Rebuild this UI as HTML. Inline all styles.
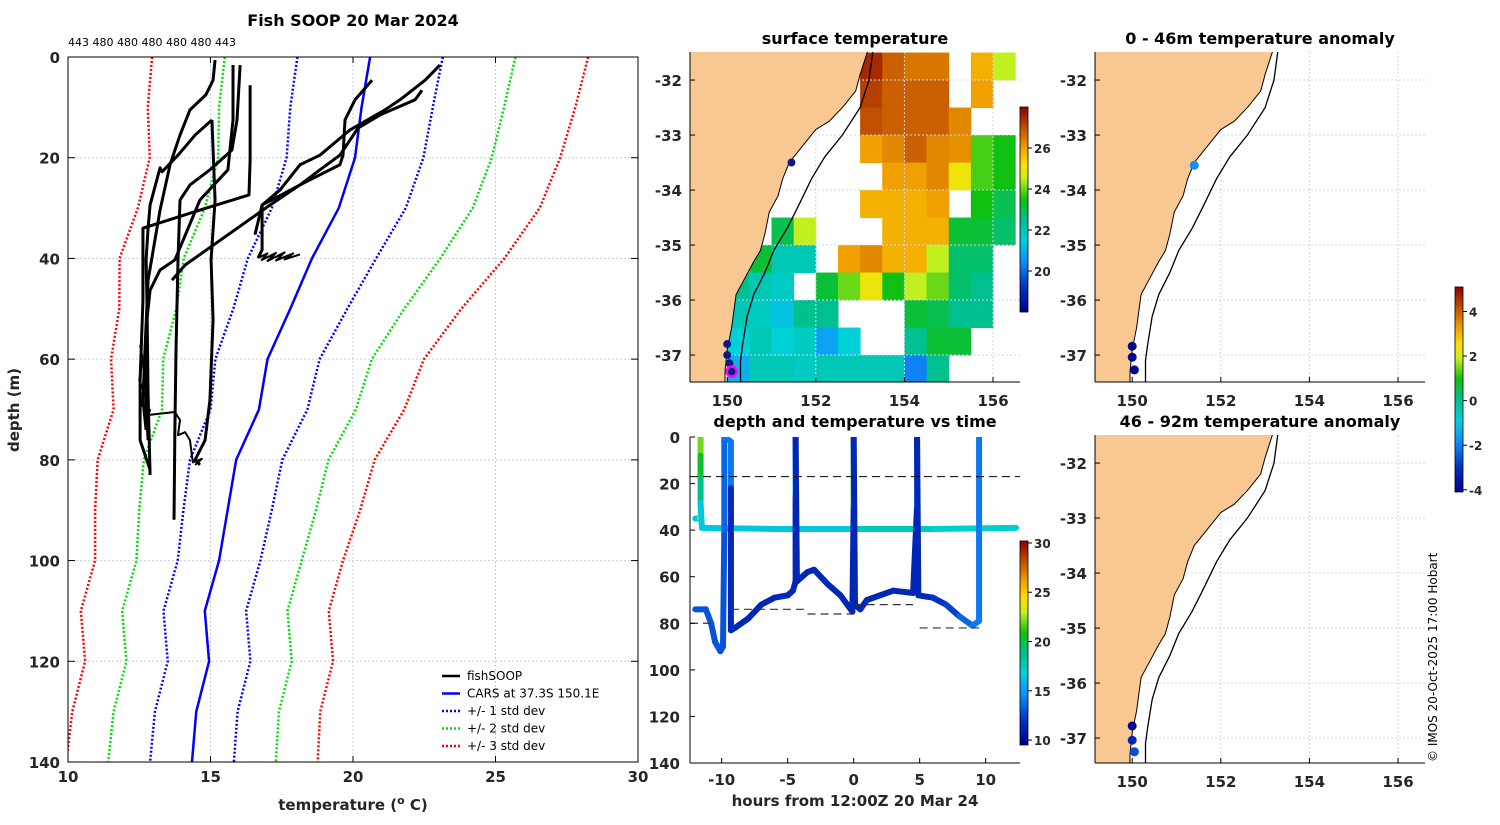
<!DOCTYPE html>
<html><head><meta charset="utf-8"><style>
body{margin:0;background:#fff}
svg text{font-family:"DejaVu Sans","Liberation Sans",sans-serif;fill:#262626}
.t{font-weight:bold;font-size:15px}
.n{font-weight:normal}
.ti{font-weight:bold;font-size:16px;fill:#000}
</style></head><body>
<svg id="fig" width="1500" height="820" viewBox="0 0 1500 820" xmlns="http://www.w3.org/2000/svg">
<defs>
<linearGradient id="cbg" x1="0" y1="1" x2="0" y2="0">
<stop offset="0" stop-color="#00008f"/><stop offset="0.12" stop-color="#0030c0"/><stop offset="0.25" stop-color="#1090ff"/><stop offset="0.35" stop-color="#00d0d8"/><stop offset="0.45" stop-color="#00c090"/><stop offset="0.55" stop-color="#10c010"/><stop offset="0.65" stop-color="#c0f020"/><stop offset="0.72" stop-color="#ffe000"/><stop offset="0.8" stop-color="#f0a000"/><stop offset="0.9" stop-color="#c05000"/><stop offset="1" stop-color="#900000"/>
</linearGradient>
<clipPath id="cpL"><rect x="68" y="57" width="570" height="705"/></clipPath>
<clipPath id="cpM"><rect x="690" y="52" width="330" height="330"/></clipPath>
<clipPath id="cpR1"><rect x="1095" y="52" width="330" height="330"/></clipPath>
<clipPath id="cpR2"><rect x="1095" y="435" width="330" height="328"/></clipPath>
<clipPath id="cpB"><rect x="690" y="437" width="330" height="326"/></clipPath>
</defs>
</svg>
<script>
// ---------- data ----------
const carsDepth=[0,10,20,30,40,50,60,70,80,90,100,110,120,130,140];
const carsTemp=[20.6,20.3,20.07,19.5,18.56,17.8,17.0,16.7,15.9,15.6,15.3,14.8,14.95,14.5,14.35];
const carsStd=[2.55,2.5,2.4,2.35,2.25,2.0,1.83,1.7,1.62,1.55,1.45,1.45,1.45,1.45,1.47];
const fishT=[
[15.16,15.09,14.84,14.28,13.93,13.58,13.23,12.81,12.7,12.63,12.74],
[16.04,15.93,15.75,14.98,14.28,13.93,13.86,13.79,13.75,13.72],
[15.79,15.79,15.61,14.63,13.75,13.23,12.88,12.77,12.74,12.81],
[16.39,16.39,16.35,14.63,12.63,12.63,12.53,12.53,12.88],
[15.05,14.46,13.86,13.3,13.23,12.88,12.81,12.74,12.77,12.81,12.88],
[23.05,22.53,21.65,21.12,19.89,18.84,18.14,17.44,16.81,16.81,16.67],
[22.42,22.18,20.95,20.18,19.54,18.84,18.14,16.81,16.56],
[20.67,20.07,19.72,19.65,19.54,18.84,18.14,17.09,14.11,13.65],
[15.05,15.16,15.02,15.09,14.98,14.81,14.46,14.63],
[12.53,12.63,12.5,12.7,12.55,12.88,12.81,13.75,13.93,13.86,14.11,14.28,14.38,14.7,14.46],
[16.67,17.0,16.8,17.3,17.0,17.6,17.3,17.9,17.6,18.14]];
const fishD=[
[0.6,4.6,7.5,10.5,15.5,21.4,30.4,44.3,58.2,68.1,74.1],
[1.6,12.5,18.5,22.4,25.4,28.4,40.3,58.2,74.1,91.9],
[1.6,12.5,22.4,28.4,40.3,42.3,46.3,52.2,68.1,76.1],
[5.6,20.5,27.4,30.4,34.0,48.3,64.1,76.1,82.0],
[12.5,15.5,19.5,22.8,22.0,29.4,34.0,40.3,48.3,67.1,83.0],
[1.6,4.6,8.5,10.5,14.5,19.5,21.4,26.4,29.4,38.3,39.9],
[6.6,8.5,11.5,14.1,19.5,22.4,25.4,29.4,35.3],
[4.6,8.5,12.5,19.5,21.4,23.4,25.4,29.4,41.3,44.3],
[12.5,28.4,40.3,52.2,68.1,76.1,80.0,81.0],
[57.2,60.2,64.1,67.1,69.1,70.1,71.1,70.5,72.1,75.1,74.5,76.1,80.5,79.8,81.0],
[39.9,39.0,40.3,38.9,40.5,38.8,40.4,39.0,40.2,39.2]];
const depthTicks=[0,20,40,60,80,100,120,140];
const tempTicks=[10,15,20,25,30];
const countLabels=["443","480","480","480","480","480","443"];
// SST grid (0.5 deg), lon centres & lat rows
const sstLon=[149.25,149.75,150.25,150.75,151.25,151.75,152.25,152.75,153.25,153.75,154.25,154.75,155.25,155.75,156.25];
const sstLatTop=[-31.5,-32,-32.5,-33,-33.5,-34,-34.5,-35,-35.5,-36,-36.5,-37];
const N=null;
const sstVal=[
[N,N,N,N,N,N,N,N,27.5,26.8,26.5,26.5,N,25.8,24.5],
[N,N,N,N,N,N,N,N,27.2,26.8,26.8,26.8,N,26,N],
[N,N,N,N,N,N,N,N,27,26.8,26.8,26.8,26.3,N,N],
[N,N,N,N,N,N,N,N,26,26.3,26.8,26.3,26.2,23.8,23.5],
[N,N,N,N,N,N,N,N,N,26,26,26.3,25,23.8,23.5],
[N,N,N,N,N,N,N,N,25.8,25.8,25.8,26,N,23.5,23],
[N,N,N,N,23,24.5,N,N,N,25.8,25.8,25.8,23.2,23.2,22.8],
[N,N,N,23.2,22,22,N,26,26.3,25.8,25.8,24.5,22.8,22.8,N],
[N,N,22.5,22,21.8,N,23.2,24,25,23.5,24.5,24,22.8,22.5,N],
[N,N,22,21.8,21.3,22.5,22.5,N,N,N,23.2,23,22.5,22.5,N],
[N,N,21.5,22,21.5,21.8,20.8,21.5,N,N,22.5,23.2,23.2,N,N],
[N,N,21,22,22,21.8,22,22,22,22,20.3,22.5,N,N,N]];
const coastLon=[153.2,153.0,152.9,152.6,152.3,152.0,151.8,151.6,151.4,151.25,151.15,150.95,150.85,150.75,150.6,150.4,150.2,150.15,150.1,150.0,149.95,149.95];
const coastLat=[-31.4,-31.9,-32.2,-32.5,-32.75,-32.9,-33.1,-33.3,-33.5,-33.8,-34.1,-34.4,-34.8,-35.1,-35.3,-35.6,-35.9,-36.2,-36.5,-36.9,-37.3,-37.6];
const isoLon=[153.3,153.2,153.0,152.6,152.2,151.9,151.6,151.35,151.05,150.85,150.6,150.45,150.35,150.3,150.3];
const isoLat=[-31.4,-32.0,-32.5,-33.0,-33.4,-33.8,-34.3,-34.7,-35.1,-35.5,-35.9,-36.3,-36.8,-37.1,-37.6];
const lonTicks=[150,152,154,156];
const latTicks=[-32,-33,-34,-35,-36,-37];
const sstDotLon=[151.45,150.0,150.0,150.05,150.1];
const sstDotLat=[-33.5,-36.8,-37.0,-37.15,-37.3];
const an1Lon=[151.4,150.0,150.0,150.05], an1Lat=[-33.55,-36.84,-37.04,-37.27], an1Val=[-1.8,-4,-4,-4];
const an2Lon=[150.0,150.0,150.05], an2Lat=[-36.78,-37.04,-37.25], an2Val=[-4,-3.2,-2.6];
const sstCbTicks=[20,22,24,26];
const anCbTicks=[-4,-2,0,2,4];
const tvCbTicks=[10,15,20,25,30];
const hourTicks=[-10,-5,0,5,10];
// time-depth traces
const hlT=[-12.0,-11.6,-11.6,-11.6,-11.6,-11.6,-11.5,-6,0,6,12.3];
const hlD=[35,35,0.5,8,18,28,39,39.5,39.5,39.5,39];
const hlC=[16.5,16.5,23.5,22,20.5,19,16.5,16.5,16.5,17.5,17];
const trT=[-12.0,-11.2,-10.8,-10.5,-10.1,-9.9,-9.8,-9.8,-9.3,-9.3,-9.3,-9.3,-9.0,-8,-7,-6,-5,-4.6,-4.4,-4.4,-4.4,-4.3,-3.5,-3,-2,-1,-0.1,0,0,0.1,0.5,1,2,3,4.5,4.8,4.8,4.9,6,7,8,9,9.5,9.5];
const trD=[74,74,80,88,92,90,40,0,2,22,28,83,82,78,72,69,68,66,62,25,0,62,58,57,63,68,75,30,0,72,74,70,68,66,67,30,0,68,69,72,77,81,79,0];
const trC=[13,13,13,13,13,13,13,13.5,14,14,11.5,11.5,11.5,11.5,11.5,11.5,11.5,11.5,11.5,11.5,15.5,11.5,11.5,11.5,11.5,11.5,11.5,11.5,20,11.5,11.5,11.5,11.5,11.5,11.5,11.5,14,11.5,11.5,12,12.5,13.5,14,14];
const dashT0=[-12.4,-9.3,-3.5,0,5];
const dashT1=[-10.5,-3.5,0,4.5,9.5];
const dashD=[80,74,76,72,82];
const surfLineD=17;

// ---------- helpers ----------
const svg=document.getElementById('fig');
const NS='http://www.w3.org/2000/svg';
function mk(tag,attrs,parent){const e=document.createElementNS(NS,tag);for(const k in attrs)e.setAttribute(k,attrs[k]);(parent||svg).appendChild(e);return e;}
function txt(x,y,s,cls,anchor,parent){const e=mk('text',{x:x,y:y,'class':cls||'t','text-anchor':anchor||'middle'},parent);e.textContent=s;return e;}
const stops=[[0,[0,0,143]],[0.12,[0,48,192]],[0.25,[16,144,255]],[0.35,[0,208,216]],[0.45,[0,192,144]],[0.55,[16,192,16]],[0.65,[192,240,32]],[0.72,[255,224,0]],[0.8,[240,160,0]],[0.9,[192,80,0]],[1,[144,0,0]]];
function cmap(f){f=Math.max(0,Math.min(1,f));for(let i=1;i<stops.length;i++){if(f<=stops[i][0]){const a=stops[i-1],b=stops[i];const u=(f-a[0])/(b[0]-a[0]);const c=a[1].map((v,j)=>Math.round(v+(b[1][j]-v)*u));return `rgb(${c[0]},${c[1]},${c[2]})`;}}return 'rgb(144,0,0)';}

// ---------- left profile panel ----------
const L={x0:68,y0:57,w:570,h:705};
const lx=t=>L.x0+(t-10)/20*L.w, ly=d=>L.y0+d/140*L.h;
const gL=mk('g',{});


tempTicks.forEach(t=>{const l=mk('line',{x1:lx(t),x2:lx(t),y1:L.y0,y2:L.y0+L.h,stroke:'#c8cde8','stroke-dasharray':'2,2','stroke-width':1},gL);
 const tl=txt(lx(t),L.y0+L.h+20,String(t),'t','middle',gL);
 mk('line',{x1:lx(t),x2:lx(t),y1:L.y0,y2:L.y0+6,stroke:'#000'},gL);mk('line',{x1:lx(t),x2:lx(t),y1:L.y0+L.h,y2:L.y0+L.h-6,stroke:'#000'},gL);});
depthTicks.forEach(d=>{const l=mk('line',{x1:L.x0,x2:L.x0+L.w,y1:ly(d),y2:ly(d),stroke:'#c8cde8','stroke-dasharray':'2,2','stroke-width':1},gL);
 const tl=txt(L.x0-8,ly(d)+6,String(d),'t','end',gL);
 mk('line',{x1:L.x0,x2:L.x0+7,y1:ly(d),y2:ly(d),stroke:'#000'},gL);mk('line',{x1:L.x0+L.w,x2:L.x0+L.w-7,y1:ly(d),y2:ly(d),stroke:'#000'},gL);});
const gLc=mk('g',{'clip-path':'url(#cpL)'},gL);
function profLine(temps,color,dash,width,name){const pts=carsDepth.map((d,i)=>lx(temps[i])+','+ly(d)).join(' ');const p=mk('polyline',{points:pts,fill:'none',stroke:color,'stroke-width':width,'stroke-dasharray':dash||''},gLc);}
[[3,'#ff0000'],[2,'#00e000'],[1,'#0000ff']].forEach(([k,c])=>{
 profLine(carsTemp.map((t,i)=>t-k*carsStd[i]),c,'2,2',2.5,'std-'+k+'-lower');
 profLine(carsTemp.map((t,i)=>t+k*carsStd[i]),c,'2,2',2.5,'std-'+k+'-upper');});
profLine(carsTemp,'#0000ff','',2.5,'cars-mean-profile');
fishT.forEach((ts,k)=>{const pts=ts.map((t,i)=>lx(t)+','+ly(fishD[k][i])).join(' ');const p=mk('polyline',{points:pts,fill:'none',stroke:'#000','stroke-width':k>=9?2:3,'stroke-linejoin':'round'},gLc);});
const fr=mk('rect',{x:L.x0,y:L.y0,width:L.w,height:L.h,fill:'none',stroke:'#000','stroke-width':1},gL);

const tt=txt(353,26,'Fish SOOP 20 Mar 2024','ti','middle');
const cl=txt(68,46,countLabels.join(' '),'n','start');cl.setAttribute('style','font-size:11px;fill:#000');
const yl=txt(0,0,'depth (m)','t','middle');yl.setAttribute('transform','translate(19,410) rotate(-90)');
const xl=mk('text',{x:353,y:810,'class':'t','text-anchor':'middle'});xl.innerHTML='temperature (<tspan dy="-6" font-size="11">o</tspan><tspan dy="6"> C)</tspan>';

// legend
const lg=mk('g',{});
const legItems=[['fishSOOP','#000',''],['CARS at 37.3S 150.1E','#0000ff',''],['+/- 1 std dev','#0000ff','2,2'],['+/- 2 std dev','#00e000','2,2'],['+/- 3 std dev','#ff0000','2,2']];
legItems.forEach((it,i)=>{const y=676+i*17.5;const ln=mk('line',{x1:442,x2:460,y1:y,y2:y,stroke:it[1],'stroke-width':2.5,'stroke-dasharray':it[2]},lg);
 const t=txt(467,y+4,it[0],'n','start',lg);t.setAttribute('style','font-size:12px;fill:#000');});

// ---------- maps ----------
function drawMap(x0,y0,h,clip,title,name,drawContent){
 const g=mk('g',{});
 const mx=lon=>x0+(lon-149.16)*44.3, my=lat=>y0+(-31.49-lat)*55;
 const gc=mk('g',{'clip-path':'url(#'+clip+')'},g);
 drawContent&&drawContent(gc,mx,my);
 lonTicks.forEach(l=>mk('line',{x1:mx(l),x2:mx(l),y1:y0,y2:y0+h,stroke:'#d0d4ec','stroke-dasharray':'2,2'},gc));
 latTicks.forEach(l=>{if(my(l)<y0+h)mk('line',{x1:x0,x2:x0+330,y1:my(l),y2:my(l),stroke:'#d0d4ec','stroke-dasharray':'2,2'},gc);});
 const land=coastLon.map((l,i)=>mx(l)+','+my(coastLat[i])).join(' ')+' '+(x0-5)+','+(y0+h+5)+' '+(x0-5)+','+(y0-5);
 const lp=mk('polygon',{points:land,fill:'#f9c892',stroke:'#000','stroke-width':1},gc);
 const iso=mk('polyline',{points:isoLon.map((l,i)=>mx(l)+','+my(isoLat[i])).join(' '),fill:'none',stroke:'#000','stroke-width':1.3},gc);
 mk('line',{x1:x0,x2:x0+330,y1:y0+h,y2:y0+h,stroke:'#000'},g);mk('line',{x1:x0,x2:x0,y1:y0,y2:y0+h,stroke:'#000'},g);
 lonTicks.forEach(l=>{mk('line',{x1:mx(l),x2:mx(l),y1:y0+h,y2:y0+h-5,stroke:'#000'},g);const t=txt(mx(l),y0+h+24,String(l),'t','middle',g);});
 latTicks.forEach(l=>{if(my(l)<y0+h){mk('line',{x1:x0,x2:x0+5,y1:my(l),y2:my(l),stroke:'#000'},g);const t=txt(x0-8,my(l)+6,String(l),'t','end',g);}});
 const ti=txt(x0+165,y0-8,title,'ti','middle',g);
 return {g,gc,mx,my};
}
const sstMin=18,sstMax=28, anMin=-4.1,anMax=5.1, tvMin=9.5,tvMax=30.2;
const m1=drawMap(690,52,330,'cpM','surface temperature','sst-map',(gc,mx,my)=>{
 sstVal.forEach((row,r)=>row.forEach((v,c)=>{if(v===null)return;const x=mx(sstLon[c]-0.25),y=my(sstLatTop[r]);
  const cell=mk('rect',{x:x,y:y,width:mx(sstLon[c]+0.25)-x+0.5,height:my(sstLatTop[r]-0.5)-y+0.5,fill:cmap((v-sstMin)/(sstMax-sstMin))},gc);
  }));
});
sstDotLon.forEach((l,i)=>{const d=mk('circle',{cx:m1.mx(l),cy:m1.my(sstDotLat[i]),r:4,fill:'#0a1a80'},m1.g);});
const mg=mk('circle',{cx:m1.mx(150.1),cy:m1.my(-37.3),r:5,fill:'none',stroke:'#ff00ff','stroke-width':2.5},m1.g);
const m2=drawMap(1095,52,330,'cpR1','0 - 46m temperature anomaly','anomaly-map-shallow');
an1Lon.forEach((l,i)=>{const d=mk('circle',{cx:m2.mx(l),cy:m2.my(an1Lat[i]),r:4.5,fill:cmap((an1Val[i]-anMin)/(anMax-anMin))},m2.g);});
const m3=drawMap(1095,435,328,'cpR2','46 - 92m temperature anomaly','anomaly-map-deep');
an2Lon.forEach((l,i)=>{const d=mk('circle',{cx:m3.mx(l),cy:m3.my(an2Lat[i]),r:4.5,fill:cmap((an2Val[i]-anMin)/(anMax-anMin))},m3.g);});

// ---------- colorbars ----------
function colorbar(x,y0,y1,vmin,vmax,ticks,name){const g=mk('g',{});
 mk('rect',{x:x,y:y0,width:8,height:y1-y0,fill:'url(#cbg)',stroke:'#000','stroke-width':0.8},g);
 ticks.forEach(t=>{const y=y1-(t-vmin)/(vmax-vmin)*(y1-y0);mk('line',{x1:x+8,x2:x+12,y1:y,y2:y,stroke:'#000'},g);const tl=txt(x+14,y+5,String(t),'t','start',g);tl.setAttribute('style','font-size:12px;fill:#262626');});}
colorbar(1020,107,312,sstMin,sstMax,sstCbTicks,'sst-colorbar');
colorbar(1455,287,492,anMin,anMax,anCbTicks,'anomaly-colorbar');
colorbar(1020,541,745,tvMin,tvMax,tvCbTicks,'time-temp-colorbar');

// ---------- time-depth panel ----------
const B={x0:690,y0:437,w:330,h:326};
const bx=t=>B.x0+(t+12.4)/25*B.w, by=d=>B.y0+d/140*B.h;
const gB=mk('g',{});
const gBc=mk('g',{'clip-path':'url(#cpB)'},gB);
function trace(T,D,C,name){for(let i=1;i<T.length;i++){const s=mk('line',{x1:bx(T[i-1]),y1:by(D[i-1]),x2:bx(T[i]),y2:by(D[i]),stroke:cmap((C[i]-tvMin)/(tvMax-tvMin)),'stroke-width':6,'stroke-linecap':'round'},gBc);}}
trace(hlT,hlD,hlC,'temperature-trace-40m');
trace(trT,trD,trC,'temperature-trace-bottom');
const sl=mk('line',{x1:B.x0,x2:B.x0+B.w,y1:by(surfLineD),y2:by(surfLineD),stroke:'#000','stroke-dasharray':'8,5'},gBc);
dashT0.forEach((t,i)=>{const d=mk('line',{x1:bx(t),x2:bx(dashT1[i]),y1:by(dashD[i]),y2:by(dashD[i]),stroke:'#333','stroke-dasharray':'8,5','stroke-width':1.2},gBc);});
mk('line',{x1:B.x0,x2:B.x0+B.w,y1:B.y0+B.h,y2:B.y0+B.h,stroke:'#000'},gB);mk('line',{x1:B.x0,x2:B.x0,y1:B.y0,y2:B.y0+B.h,stroke:'#000'},gB);
hourTicks.forEach(t=>{mk('line',{x1:bx(t),x2:bx(t),y1:B.y0+B.h,y2:B.y0+B.h-5,stroke:'#000'},gB);const tl=txt(bx(t),B.y0+B.h+22,String(t),'t','middle',gB);});
depthTicks.forEach(d=>{mk('line',{x1:B.x0,x2:B.x0+5,y1:by(d),y2:by(d),stroke:'#000'},gB);const tl=txt(B.x0-10,by(d)+6,String(d),'t','end',gB);});
const bt=txt(855,427,'depth and temperature vs time','ti','middle',gB);
const bxl=txt(855,806,'hours from 12:00Z 20 Mar 24','t','middle',gB);

const cp=txt(0,0,'© IMOS 20-Oct-2025 17:00 Hobart','n','start');cp.setAttribute('transform','translate(1437,762) rotate(-90)');cp.setAttribute('style','font-size:12px;fill:#000');

</script>
</body></html>
